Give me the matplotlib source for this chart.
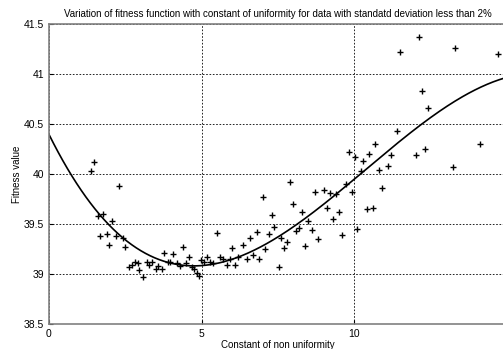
import numpy as np
import matplotlib.pyplot as plt

# scatter points (10 per row)
x_vals = [1.39, 1.47, 2.29, 1.59, 1.78, 2.07, 1.67, 1.89, 1.98, 2.19,
          2.41, 2.50, 2.61, 2.72, 2.81, 2.90, 2.96, 3.09, 3.20, 3.29,
          3.37, 3.50, 3.58, 3.69, 3.78, 3.89, 3.95, 4.07, 4.18, 4.29,
          4.40, 4.49, 4.60, 4.67, 4.75, 4.84, 4.92, 4.98, 5.08, 5.18,
          5.27, 5.38, 5.50, 5.60, 5.71, 5.82, 5.93, 6.00, 6.09, 6.18,
          6.37, 6.49, 6.58, 6.69, 6.80, 6.89, 7.00, 7.09, 7.19, 7.29,
          7.38, 7.52, 7.60, 7.71, 7.80, 7.90, 8.00, 8.09, 8.20, 8.30,
          8.40, 8.49, 8.60, 8.70, 8.81, 9.00, 9.11, 9.20, 9.29, 9.40,
          9.50, 9.60, 9.73, 9.82, 9.91, 10.02, 10.10, 10.21, 10.30, 10.41,
          10.60, 10.49, 10.68, 10.82, 10.92, 11.11, 11.20, 11.41, 11.50, 12.02,
          12.11, 12.21, 12.32, 12.40, 13.22, 13.30, 14.12, 14.71]
y_vals = [40.03, 40.12, 39.88, 39.58, 39.60, 39.53, 39.38, 39.40, 39.29, 39.38,
          39.36, 39.27, 39.07, 39.09, 39.12, 39.11, 39.04, 38.97, 39.12, 39.09,
          39.12, 39.05, 39.08, 39.05, 39.21, 39.12, 39.12, 39.20, 39.11, 39.08,
          39.27, 39.11, 39.17, 39.07, 39.05, 39.01, 38.98, 39.14, 39.12, 39.17,
          39.12, 39.11, 39.41, 39.17, 39.15, 39.09, 39.15, 39.26, 39.09, 39.17,
          39.29, 39.15, 39.36, 39.19, 39.42, 39.15, 39.77, 39.25, 39.40, 39.59,
          39.47, 39.07, 39.36, 39.26, 39.32, 39.92, 39.70, 39.43, 39.46, 39.62,
          39.28, 39.53, 39.44, 39.82, 39.35, 39.84, 39.66, 39.81, 39.55, 39.80,
          39.62, 39.39, 39.90, 40.22, 39.82, 40.17, 39.45, 40.03, 40.13, 39.65,
          39.66, 40.20, 40.30, 40.04, 39.86, 40.08, 40.19, 40.43, 41.22, 40.19,
          41.37, 40.83, 40.25, 40.66, 40.07, 41.26, 40.30, 41.20]

x_ticks = [0, 5, 10]
y_ticks = [38.5, 39, 39.5, 40, 40.5, 41, 41.5]
y_labels = ["38.5", "39", "39.5", "40", "40.5", "41", "41.5"]

plt.rcParams['font.family'] = ['Liberation Sans', 'DejaVu Sans']

fig = plt.figure(figsize=(5.03, 3.49), dpi=100)
ax = fig.add_axes([49/503, 1-324/349, 458/503, 300/349])

# smooth fitted curve through the data
coef = np.polyfit(x_vals, y_vals, 3)
xs = np.linspace(0, 15, 300)
ax.plot(xs, np.polyval(coef, xs), color='black', lw=1.2)

ax.plot(x_vals, y_vals, '+', color='black', ms=5, mew=1.0)

ax.set_xlim(0, 15)
ax.set_ylim(38.5, 41.5)
ax.set_xticks(x_ticks)
ax.set_yticks(y_ticks)
ax.set_yticklabels(y_labels)
ax.tick_params(direction='in', labelsize=7.5, length=3, colors='black')
ax.grid(True, color='black', linestyle=(0, (2, 2)), linewidth=0.6)
for s in ax.spines.values():
    s.set_color('#808080')
    s.set_linewidth(1.2)

ax.set_title("Variation of fitness function with constant of uniformity for data with standatd deviation less than 2%",
             fontsize=7, pad=5)
ax.set_xlabel("Constant of non uniformity", fontsize=7, labelpad=1)
ax.set_ylabel("Fitness value", fontsize=7, labelpad=1)

fig.savefig("out.png", dpi=100)
